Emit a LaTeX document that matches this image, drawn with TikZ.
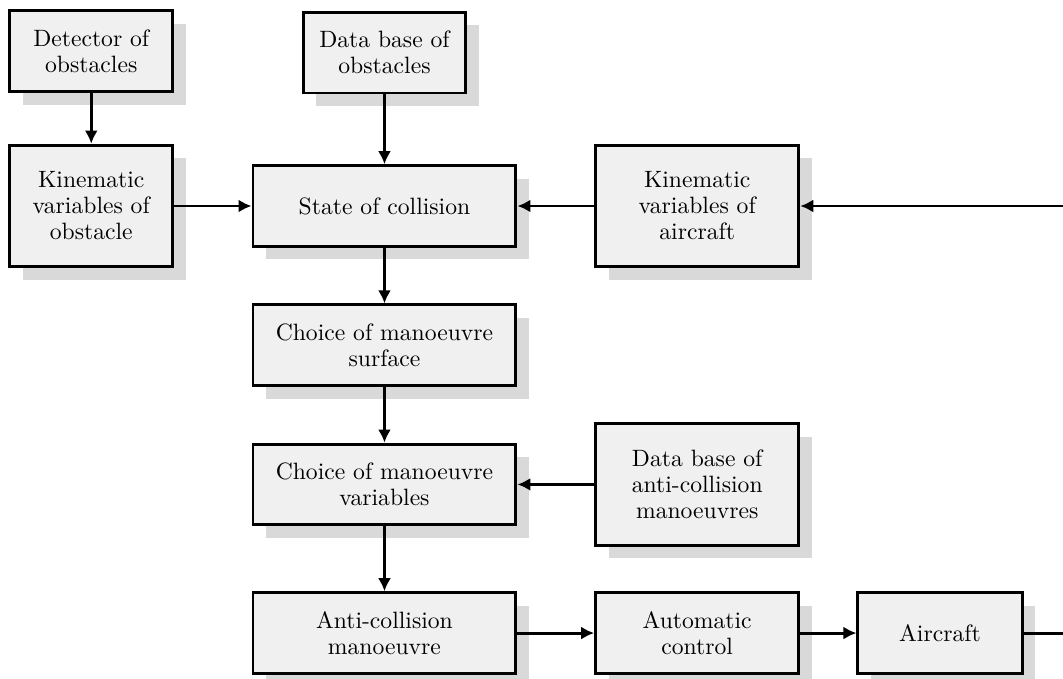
\documentclass[tikz,border=0pt]{standalone}
\usepackage{amsmath}
\usepackage{tikz}
\usetikzlibrary{arrows.meta}
\usetikzlibrary{shadows}

\begin{document}
\begin{tikzpicture}[>={Latex[length=5.5pt,width=5.5pt]},auto,node distance=2.07cm,
		line width=1.25pt,block node/.style={rectangle,fill=black!6,draw,
			drop shadow={shadow xshift=5.5pt,shadow yshift=-5.5pt,fill=black!15,opacity=1},
			font=\fontsize{10}{11}\selectfont,align=center,
			minimum width=2.42cm,minimum height=1.2cm},
		wide node/.style={block node,minimum width=3.91cm},
		big node/.style={block node,minimum width=3.02cm,minimum height=1.81cm}]
	
	\useasboundingbox (-5.717,-7.019) rectangle (10.089,3.063);
	
	\node[wide node] (S) {State of collision};
	\node[block node] (DB) [above of=S,node distance=2.28cm] {Data base of\\obstacles};
	\node[block node,minimum height=1.81cm] (KO) [left of=S,node distance=4.36cm] {Kinematic\\variables of\\obstacle};
	\node[block node] (D) [above of=KO,node distance=2.3cm] {Detector of\\obstacles};
	\node[big node] (KA) [right of=S,node distance=4.65cm] {Kinematic\\variables of\\aircraft};
	\node[wide node] (CS) [below of=S] {Choice of manoeuvre\\surface};
	\node[wide node] (CV) [below of=CS] {Choice of manoeuvre\\variables};
	\node[big node] (DBA) [right of=CV,node distance=4.65cm] {Data base of\\anti-collision\\manoeuvres};
	\node[wide node] (AM) [below of=CV,node distance=2.21cm] {Anti-collision\\manoeuvre};
	\node[block node,minimum width=3.02cm] (AC) [right of=AM,node distance=4.65cm] {Automatic\\control};
	\node[block node,minimum width=2.44cm] (Air) [right of=AC,node distance=3.61cm] {Aircraft};
	
	% loop back from the aircraft, cut at the right edge
	\coordinate (inA) at (10.089,0);
	\coordinate (outA) at (Air.east -| inA);
	
	\path[->]
	(D) edge (KO)
	(KO) edge (S)
	(DB) edge (S)
	(inA) edge (KA)
	(KA) edge (S)
	(S) edge (CS)
	(CS) edge (CV)
	(DBA) edge (CV)
	(CV) edge (AM)
	(AM) edge (AC)
	(AC) edge (Air);
	\path[-] (Air) edge (outA);
\end{tikzpicture}
\end{document}
